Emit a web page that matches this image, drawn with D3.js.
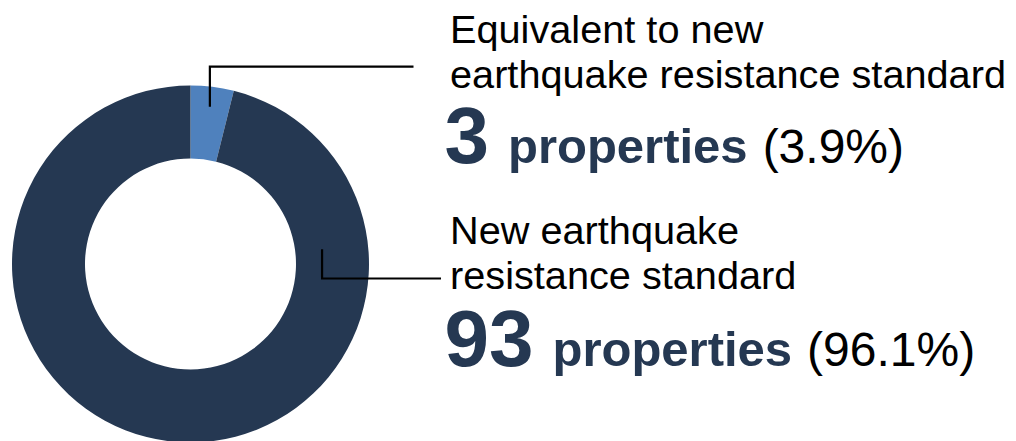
<!DOCTYPE html>
<html>
<head>
<meta charset="utf-8">
<script src="https://cdn.jsdelivr.net/npm/d3@7/dist/d3.min.js"></script>
<style>
  html, body { margin: 0; padding: 0; background: #ffffff; }
  svg { display: block; }
  text { font-family: "Liberation Sans", Arial, Helvetica, sans-serif; }
</style>
</head>
<body>
<svg id="chart" width="1016" height="441"></svg>
<script>
// Seismic standard breakdown of the portfolio
const categories = ["Equivalent to new earthquake resistance standard", "New earthquake resistance standard"];
const labelLines = [["Equivalent to new", "earthquake resistance standard"], ["New earthquake", "resistance standard"]];
const counts = [3, 93];
const shares = [3.9, 96.1];          // percent of properties
const unitLabel = "properties";
const colors = ["#4f81bd", "#253852"];

const W = 1016, H = 441;
const cx = 190.5, cy = 264;
const outerR = 178.5, innerR = 105.5;
const navy = "#253852";

const svg = d3.select("#chart");

const pie = d3.pie().sort(null).value(d => d.share).startAngle(0).endAngle(2 * Math.PI);
const data = categories.map((c, i) => ({ name: c, share: shares[i], count: counts[i], lines: labelLines[i] }));
const arcs = pie(data);
const arc = d3.arc().innerRadius(innerR).outerRadius(outerR);

const g = svg.append("g").attr("transform", `translate(${cx},${cy})`);
g.selectAll("path.slice")
  .data(arcs)
  .join("path")
  .attr("class", "slice")
  .attr("d", arc)
  .attr("fill", (d, i) => colors[i]);

// Leader lines: anchor inside each ring segment, elbow out to the label block
const leaders = [
  { angle: null, radius: 158.5, elbowY: 66.7, endX: 413.5 },   // null: use slice mid-angle
  { angle: 83.6, radius: 132.4, elbowY: 278.5, endX: 441 }
];
arcs.forEach((a, i) => {
  const L = leaders[i];
  const ang = L.angle === null ? (a.startAngle + a.endAngle) / 2 : L.angle * Math.PI / 180;
  const ax = cx + L.radius * Math.sin(ang);
  const ay = cy - L.radius * Math.cos(ang);
  svg.append("path")
    .attr("d", d3.line()([[ax, ay], [ax, L.elbowY], [L.endX, L.elbowY]]))
    .attr("fill", "none")
    .attr("stroke", "#000000")
    .attr("stroke-width", 2.2);
});

// Label blocks
const blocks = [
  { x: 450, lineY: [43, 88], valueY: 163 },
  { x: 450, lineY: [244, 289], valueY: 366 }
];
const fmt = d3.format(".1f");
data.forEach((d, i) => {
  const b = blocks[i];
  d.lines.forEach((ln, j) => {
    svg.append("text")
      .attr("x", b.x)
      .attr("y", b.lineY[j])
      .attr("font-size", 39.7)
      .attr("fill", "#000000")
      .text(ln);
  });
  const t = svg.append("text")
    .attr("x", b.x - 5.5)
    .attr("y", b.valueY)
    .attr("fill", navy);
  t.append("tspan")
    .attr("font-size", 80)
    .attr("font-weight", "bold")
    .text(d.count);
  t.append("tspan")
    .attr("dx", 19)
    .attr("font-size", 49)
    .attr("font-weight", "bold")
    .text(unitLabel);
  t.append("tspan")
    .attr("dx", 15)
    .attr("font-size", 48)
    .attr("fill", "#000000")
    .text(`(${fmt(d.share)}%)`);
});
</script>
</body>
</html>
